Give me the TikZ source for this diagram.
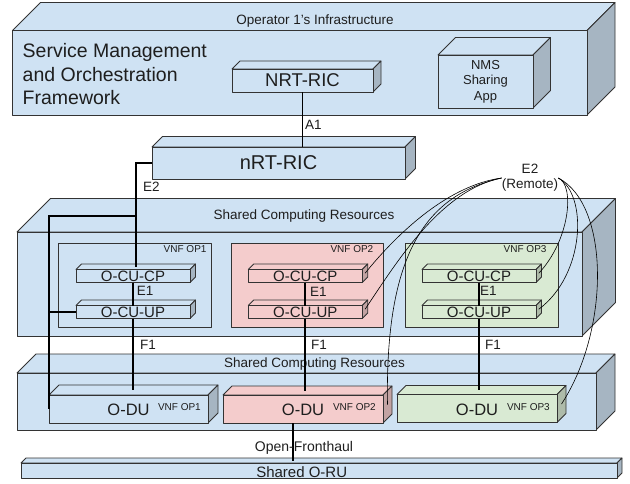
\documentclass[tikz,border=0pt]{standalone}
\usepackage{fontspec}
\setmainfont{Liberation Sans}
\usetikzlibrary{fit}

\definecolor{edge}{HTML}{333333}
\definecolor{ink}{HTML}{1E1E1E}
\definecolor{bluef}{HTML}{CFE2F3}
\definecolor{pinkf}{HTML}{F4CCCC}
\definecolor{greenf}{HTML}{D9EAD3}

% #1 name, (#2,#3) front top-left, (#4,#5) front bottom-right, #6 depth, #7 colour
\newcommand\cuboid[7]{%
  \path[face, fill=#7] (#2,#3) -- ++(#6,-#6) -- ++({#4-#2},0) -- (#4,#3) -- cycle;
  \path[face, fill=#7!80!black] (#4,#3) -- ++(#6,-#6) -- ++(0,{#5-#3}) -- (#4,#5) -- cycle;
  \node[face, fill=#7, fit={(#2,#3) (#4,#5)}] (#1) {};
  \coordinate (#1-top) at ({(#2+#4)/2+#6/2},{#3-#6/2});
  \coordinate (#1-side) at ({#4+#6/2},{(#3+#5)/2-#6/2});
}

\begin{document}
\begin{tikzpicture}[x=1pt,y=-1pt,
  face/.style={draw=edge, line width=0.8pt, line join=round, inner sep=0pt, outer sep=0pt},
  vnfbox/.style={face},
  conn/.style={draw=black, line width=1.8pt},
  remote/.style={draw=black, line width=0.6pt},
  lbl/.style={text=ink, inner sep=0pt, font=\fontsize{13.5}{15}\selectfont},
  big/.style={text=ink, inner sep=0pt, font=\fontsize{19.5}{23.5}\selectfont},
  mid/.style={text=ink, inner sep=0pt, font=\fontsize{15}{17}\selectfont},
  tiny/.style={text=ink, inner sep=0pt, font=\fontsize{10}{12}\selectfont}]
\useasboundingbox (0,0) rectangle (630,483);

% operator infrastructure
\cuboid{op}{12.5}{30.5}{587}{115}{28}{bluef}
\node[lbl, anchor=base] (optitle) at (315,24) {Operator 1's Infrastructure};
\node[big, anchor=north west, align=left] (smo) at (22.5,43.3)
  {Service Management\\and Orchestration\\Framework};
\cuboid{nrt}{232}{69}{373}{92}{8}{bluef}
\node[text=ink, inner sep=0pt, font=\fontsize{18.5}{20}\selectfont] at (nrt) {NRT-RIC};
\cuboid{nms}{438}{55}{533}{108}{17.5}{bluef}
\node[text=ink, inner sep=0pt, align=center, font=\fontsize{13}{15.5}\selectfont] at (nms) {NMS\\Sharing\\App};

% near-real-time RIC
\cuboid{nrtric}{152}{147}{405}{179}{10.5}{bluef}
\node[text=ink, inner sep=0pt, font=\fontsize{20}{22}\selectfont] at (nrtric) {nRT-RIC};

% upper shared computing resources with the CU functions
\cuboid{scr1}{17}{232}{582}{336}{33.5}{bluef}
\node[lbl, anchor=base] at (304,219.7) {Shared Computing Resources};

\node[vnfbox, fill=bluef, fit={(58,243) (211,327)}] (vnf1) {};
\node[vnfbox, fill=pinkf, fit={(231,243) (383,327)}] (vnf2) {};
\node[vnfbox, fill=greenf, fit={(405,243) (558,327)}] (vnf3) {};
\node[tiny, anchor=base east] at (206.7,252.7) {VNF OP1};
\node[tiny, anchor=base east] at (373.5,252.3) {VNF OP2};
\node[tiny, anchor=base east] at (546.7,252.3) {VNF OP3};

\cuboid{cucp1}{76}{269.5}{190}{282.5}{5.5}{bluef}
\cuboid{cuup1}{76}{305.5}{190}{318.5}{5.5}{bluef}
\cuboid{cucp2}{248.3}{269.5}{362.3}{282.5}{5.5}{pinkf}
\cuboid{cuup2}{248.3}{305.5}{362.3}{318.5}{5.5}{pinkf}
\cuboid{cucp3}{422}{269.5}{536}{282.5}{5.5}{greenf}
\cuboid{cuup3}{422}{305.5}{536}{318.5}{5.5}{greenf}
\foreach \n/\t in {cucp1/O-CU-CP,cuup1/O-CU-UP,cucp2/O-CU-CP,cuup2/O-CU-UP,cucp3/O-CU-CP,cuup3/O-CU-UP}
  \node[mid] at (\n) {\t};

% lower shared computing resources with the DUs
\cuboid{scr2}{17}{373}{596}{430}{19}{bluef}
\node[lbl, anchor=base] at (314.5,367.3) {Shared Computing Resources};
\cuboid{odu1}{49}{395}{208}{423}{10}{bluef}
\cuboid{odu2}{223}{395}{383}{423}{9}{pinkf}
\cuboid{odu3}{397}{394.5}{557}{422.5}{9}{greenf}
\foreach \n in {1,2,3}{
  \node[text=ink, inner sep=0pt, font=\fontsize{16.5}{18}\selectfont, anchor=base] at ([yshift=-6.5pt]odu\n.center) {O-DU};
  \node[tiny, anchor=base east] at ([xshift=-7pt,yshift=-1.7pt]odu\n.east) {VNF OP\n};
}

% shared radio unit
\cuboid{oru}{21}{463}{617}{478}{5}{bluef}
\node[mid, anchor=base] at (301.7,477) {Shared O-RU};

% interfaces
\draw[conn] (nrt.south) -- (nrt.south |- nrtric.north);
\node[lbl, anchor=base west] at (305,129.3) {A1};

\draw[conn] (nrtric.west) -| (cucp1-top);
\node[lbl, anchor=base west] at (143,191) {E2};
\coordinate (e2split) at (cucp1-top |- 0,216);
\draw[conn] (e2split) -| (odu1.west);
\draw[conn] (cuup1.west) -- (cuup1.west -| odu1.west);

\foreach \k in {1,2,3}{
  \draw[conn] (cucp\k.south) -- (cuup\k.north);
  \draw[conn] (cuup\k.south) -- (cuup\k.south |- odu\k-top);
}
\node[lbl, anchor=base west] at (136.7,295.7) {E1};
\node[lbl, anchor=base west] at (310,296.5) {E1};
\node[lbl, anchor=base west] at (480,295) {E1};
\node[lbl, anchor=base west] at (140,349.5) {F1};
\node[lbl, anchor=base west] at (311,349.5) {F1};
\node[lbl, anchor=base west] at (485,349) {F1};

\coordinate (ofh) at ([xshift=-10pt]odu2.south);
\draw[conn] (ofh) -- (ofh |- oru-top);
\node[text=ink, inner sep=0pt, font=\fontsize{14}{16}\selectfont, anchor=base] at (304,451.7) {Open-Fronthaul};

% remote E2 links
\node[lbl, align=center] (e2r) at (530,178) {E2\\(Remote)};
\draw[remote] (e2r.west) .. controls (450,185) and (400,230) .. (cucp2-side);
\draw[remote] (e2r.west) .. controls (440,190) and (395,265) .. (cuup2-side);
\draw[remote] (e2r.west) .. controls (425,195) and (385,255) .. (odu2-side);
\draw[remote] (e2r.east) .. controls (575,185) and (570,240) .. (cucp3-side);
\draw[remote] (e2r.east) .. controls (588,195) and (585,275) .. (cuup3-side);
\draw[remote] (e2r.east) .. controls (610,205) and (610,330) .. (odu3-side);
\end{tikzpicture}
\end{document}
